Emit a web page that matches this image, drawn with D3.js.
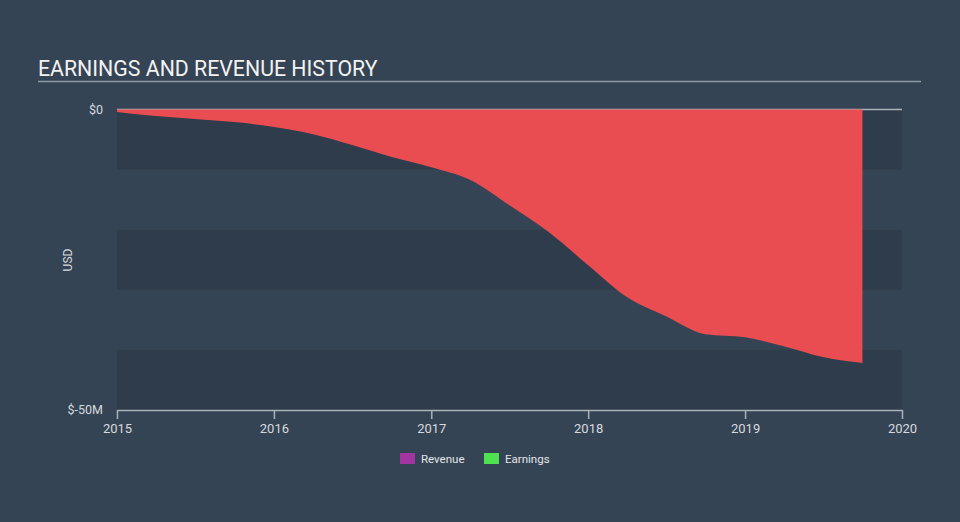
<!DOCTYPE html>
<html><head><meta charset="utf-8">
<script src="https://cdn.jsdelivr.net/npm/d3@7"></script>
<style>
html,body{margin:0;padding:0;background:#354454;}
svg{display:block;font-family:Roboto,"Open Sans",sans-serif;}
</style></head>
<body><svg id="c" width="960" height="522"></svg>
<script>
const title = "EARNINGS AND REVENUE HISTORY";
const dates = ["2015-01-01","2015-04-01","2015-07-01","2015-10-01","2016-01-01","2016-04-01","2016-07-01","2016-10-01","2017-01-01","2017-04-01","2017-07-01","2017-10-01","2018-01-01","2018-04-01","2018-07-01","2018-10-01","2019-01-01","2019-04-01","2019-07-01","2019-10-01"];
const earnings = [-0.4,-1.1,-1.6,-2.1,-2.9,-4.1,-5.9,-7.9,-9.6,-11.7,-15.9,-20.4,-25.9,-31.2,-34.4,-37.4,-37.9,-39.4,-41.2,-42.2]; // $M
const yTicks = [0,-50];
const yTickLabels = ["$0","$-50M"];
const xTickYears = [2015,2016,2017,2018,2019,2020];
const legendItems = [{name:"Revenue",color:"#a2359f"},{name:"Earnings",color:"#4fe24f"}];

const svg = d3.select("#c");
const W=960,H=522;
const m={left:117,right:58,top:109.5,bottom:112};
const x = d3.scaleTime().domain([new Date(2015,0,1),new Date(2020,0,1)]).range([m.left,W-m.right]);
const y = d3.scaleLinear().domain([-50,0]).range([H-m.bottom,m.top]);
const parse = d3.timeParse("%Y-%m-%d");
const data = dates.map((d,i)=>({d:parse(d),v:earnings[i]}));

svg.append("rect").attr("width",W).attr("height",H).attr("fill","#354454");

// bands
const bands=[0,-10,-20,-30,-40];
bands.forEach((b,i)=>{
  if(i%2===0) svg.append("rect").attr("x",x.range()[0]).attr("width",x.range()[1]-x.range()[0])
    .attr("y",y(b)).attr("height",y(b-10)-y(b)).attr("fill","#2f3c4b");
});

// title
svg.append("text").attr("x",38).attr("y",76).attr("fill","#f2f2f2").attr("font-size",21.3).text(title);
svg.append("line").attr("x1",38).attr("x2",921).attr("y1",81.5).attr("y2",81.5).attr("stroke","#8f9aa6").attr("stroke-width",1.5);

// zero line
svg.append("line").attr("x1",x.range()[0]).attr("x2",x.range()[1]).attr("y1",y(0)).attr("y2",y(0)).attr("stroke","#aab2bb").attr("stroke-width",1.5);

// area
const area=d3.area().x(d=>x(d.d)).y0(y(0)).y1(d=>y(d.v)).curve(d3.curveMonotoneX);
svg.append("path").datum(data).attr("d",area).attr("fill","#ea4d51");

// y labels
yTicks.forEach((t,i)=>{
  svg.append("text").attr("x",103).attr("y",y(t)).attr("dy","0.35em").attr("text-anchor","end")
    .attr("fill","#d5d9de").attr("font-size",12.5).text(yTickLabels[i]);
});
svg.append("text").attr("transform","translate(72,260) rotate(-90)").attr("text-anchor","middle")
  .attr("fill","#d5d9de").attr("font-size",12).text("USD");

// x axis
const xa = svg.append("g").attr("transform",`translate(0,${y(-50)})`)
  .call(d3.axisBottom(x).tickValues(xTickYears.map(yr=>new Date(yr,0,1))).tickFormat(d3.timeFormat("%Y")).tickSize(9).tickSizeOuter(0));
xa.select(".domain").attr("stroke","#aab2bb").attr("stroke-width",1.5);
xa.selectAll(".tick line").attr("stroke","#aab2bb").attr("stroke-width",1.5);
xa.selectAll(".tick text").attr("fill","#d5d9de").attr("font-size",13).attr("font-family","Roboto,sans-serif").attr("dy","0.85em");

// legend
legendItems.forEach((it,i)=>{
  const gx = i===0?400:484;
  svg.append("rect").attr("x",gx).attr("y",453).attr("width",15).attr("height",11).attr("fill",it.color);
  svg.append("text").attr("x",gx+21).attr("y",462.5).attr("fill","#e3e6e9").attr("font-size",11.5).text(it.name);
});
</script></body></html>
